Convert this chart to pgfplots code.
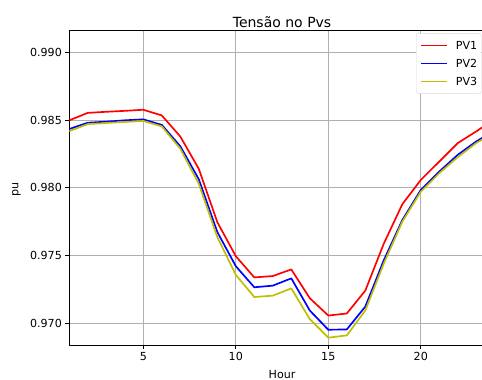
\documentclass[border=0pt]{standalone}
\usepackage{fontspec}
\setmainfont{DejaVu Sans}
\usepackage{pgfplots}
\usepackage{pgfplotstable}
\pgfplotsset{compat=1.18}

\definecolor{pvred}{RGB}{255,0,0}
\definecolor{pvblue}{RGB}{0,0,255}
\definecolor{pvyellow}{RGB}{191,191,0}

% legend sample: a 26pt line in the series colour, then room before the label
\pgfplotsset{pvsample/.style={legend image code/.code={%
  \draw[draw=#1, line width=1.67pt] (0pt,0pt) -- (26pt,0pt);
  \path (34pt,0pt);}}}

% Bus voltage (pu) at the three PV connection points, hour by hour
\pgfplotstableread{
h    pv1      pv2      pv3
1    0.98500  0.98436  0.98420
2    0.98555  0.98482  0.98472
3    0.98563  0.98490  0.98480
4    0.98570  0.98500  0.98488
5    0.98578  0.98507  0.98495
6    0.98536  0.98466  0.98455
7    0.98380  0.98308  0.98290
8    0.98141  0.98064  0.98030
9    0.97747  0.97674  0.97637
10   0.97495  0.97421  0.97357
11   0.97338  0.97265  0.97193
12   0.97348  0.97277  0.97203
13   0.97397  0.97331  0.97257
14   0.97184  0.97093  0.97029
15   0.97056  0.96951  0.96892
16   0.97071  0.96953  0.96909
17   0.97240  0.97122  0.97093
18   0.97588  0.97465  0.97441
19   0.97879  0.97762  0.97750
20   0.98059  0.97985  0.97972
21   0.98195  0.98121  0.98109
22   0.98332  0.98245  0.98228
23   0.98418  0.98344  0.98332
24   0.98510  0.98425  0.98412
}\voltages

\begin{document}
\begin{tikzpicture}
% visible window: the axis box sits with its lower-left corner at the origin
\useasboundingbox (-69.3pt,-35pt) rectangle (412.7pt,345pt);
\clip (-69.3pt,-35pt) rectangle (412.7pt,345pt);
\begin{axis}[
  at={(0pt,0pt)}, anchor=south west,
  scale only axis,
  width=425.5pt, height=315pt,
  xmin=1, xmax=24,
  ymin=0.96838, ymax=0.99168,
  xtick={5,10,15,20},
  ytick={0.970,0.975,0.980,0.985,0.990},
  yticklabel style={/pgf/number format/.cd, fixed, fixed zerofill, precision=3},
  /pgf/number format/assume math mode=true,
  tick label style={font=\fontsize{11.1}{13}\selectfont},
  tick align=outside, tick pos=left,
  major tick length=3.9pt,
  every tick/.style={black, line width=0.9pt},
  axis line style={black, line width=0.9pt},
  grid=major,
  major grid style={color=black!31, line width=0.9pt},
  legend cell align=left,
  legend style={at={(rel axis cs:0.96873,0.99)}, anchor=north east,
    draw=black!15, rounded corners=2pt, fill=white,
    font=\fontsize{11.1}{13}\selectfont,
    inner xsep=4pt, inner ysep=8pt, row sep=9.9pt,
    nodes={inner sep=0pt, text height=8.1pt, text depth=0pt}},
  line join=round,
]
\addplot[pvred, line width=1.67pt, pvsample=pvred] table[x=h, y=pv1] {\voltages};
\addlegendentry{PV1}
\addplot[pvblue, line width=1.67pt, pvsample=pvblue] table[x=h, y=pv2] {\voltages};
\addlegendentry{PV2}
\addplot[pvyellow, line width=1.67pt, pvsample=pvyellow] table[x=h, y=pv3] {\voltages};
\addlegendentry{PV3}
\end{axis}
% title and axis labels, placed around the 425.5pt x 315pt axis box
\node[font=\fontsize{14}{16}\selectfont, anchor=south, inner sep=0pt] at (212.75pt,317pt) {Tensão no Pvs};
\node[font=\fontsize{11.1}{13}\selectfont, anchor=north, inner sep=0pt] at (212.75pt,-25pt) {Hour};
\node[font=\fontsize{11.1}{13}\selectfont, anchor=center, inner sep=0pt, rotate=90] at (-52.8pt,155.9pt) {pu};
\end{tikzpicture}
\end{document}
